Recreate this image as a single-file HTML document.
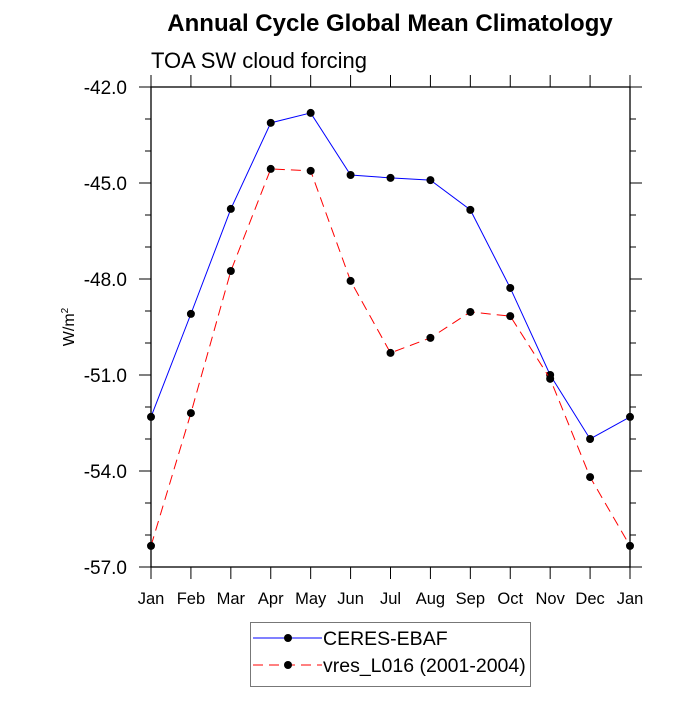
<!DOCTYPE html>
<html><head><meta charset="utf-8"><style>
body{margin:0;background:#fff}
svg text{font-family:"Liberation Sans",sans-serif}
</style></head><body>
<svg id="chart" width="700" height="700">
<text x="390" y="31" text-anchor="middle" font-size="24" font-weight="bold">Annual Cycle Global Mean Climatology</text>
<text x="151" y="68" font-size="22">TOA SW cloud forcing</text>
<text transform="translate(74,327) rotate(-90)" text-anchor="middle" font-size="16">W/m<tspan font-size="10" dy="-6">2</tspan></text>
<g id="axes"></g>
<g id="series"></g>
<g>
<rect x="250.5" y="622.5" width="280" height="64" fill="none" stroke="#777"/>
<line x1="253" y1="638" x2="322" y2="638" stroke="#0000ff"/>
<circle cx="288" cy="638" r="4" fill="#000"/>
<text x="323" y="645" font-size="19.5">CERES-EBAF</text>
<line x1="253" y1="665" x2="322" y2="665" stroke="#ff0000" stroke-dasharray="10,6"/>
<circle cx="288" cy="665" r="4" fill="#000"/>
<text x="323" y="672" font-size="19.5">vres_L016 (2001-2004)</text>
</g>
</svg>
<script>
const months=["Jan","Feb","Mar","Apr","May","Jun","Jul","Aug","Sep","Oct","Nov","Dec","Jan"];
const ceres=[-52.31,-49.09,-45.81,-43.12,-42.81,-44.75,-44.84,-44.91,-45.84,-48.28,-51.0,-53.0,-52.31];
const model=[-56.34,-52.19,-47.75,-44.56,-44.62,-48.06,-50.31,-49.84,-49.03,-49.16,-51.12,-54.19,-56.34];
const yTicks=[-42,-45,-48,-51,-54,-57];
const yTickLabels=["-42.0","-45.0","-48.0","-51.0","-54.0","-57.0"];
const L=151,R=630,T=87,B=567,ymax=-42,ymin=-57;
const xs=i=>L+(R-L)*i/(months.length-1);
const ys=v=>T+(ymax-v)/(ymax-ymin)*(B-T);
const NS="http://www.w3.org/2000/svg";
function mk(tag,attrs,parent){const e=document.createElementNS(NS,tag);for(const k in attrs)e.setAttribute(k,attrs[k]);parent.appendChild(e);return e;}
const ax=document.getElementById('axes');
const frame=mk('rect',{x:L,y:T,width:R-L,height:B-T,fill:'none',stroke:'#000','stroke-width':1.3},ax);


for(let v=ymax;v>=ymin;v--){
  const y=ys(v);const major=yTicks.includes(v);const len=major?12:6;
  const t1=mk('line',{x1:L-len,y1:y,x2:L,y2:y,stroke:'#000'},ax);
  
  
  const t2=mk('line',{x1:R,y1:y,x2:R+len,y2:y,stroke:'#000'},ax);
  
  
}
yTicks.forEach((v,i)=>{
  const t=mk('text',{x:L-24,y:ys(v)+7,'text-anchor':'end','font-size':19},ax);
  t.textContent=yTickLabels[i];
  
  
});
months.forEach((m,i)=>{
  const x=xs(i);
  const a=mk('line',{x1:x,y1:B,x2:x,y2:B+12,stroke:'#000'},ax);
  
  
  const b=mk('line',{x1:x,y1:T-12,x2:x,y2:T,stroke:'#000'},ax);
  
  
  const t=mk('text',{x:x,y:B+37,'text-anchor':'middle','font-size':16.5},ax);
  t.textContent=m;
  
  
});
const sg=document.getElementById('series');
function draw(vals,color,dash,name){
  const p=mk('polyline',{points:vals.map((v,i)=>xs(i)+','+ys(v)).join(' '),fill:'none',stroke:color,'stroke-width':1,'stroke-dasharray':dash},sg);
  
  
  vals.forEach((v,i)=>{
    const c=mk('circle',{cx:xs(i),cy:ys(v),r:4,fill:'#000'},sg);
    
    
  });
}
draw(ceres,'#0000ff','none','ceres');
draw(model,'#ff0000','10,6','model');
</script>
</body></html>
